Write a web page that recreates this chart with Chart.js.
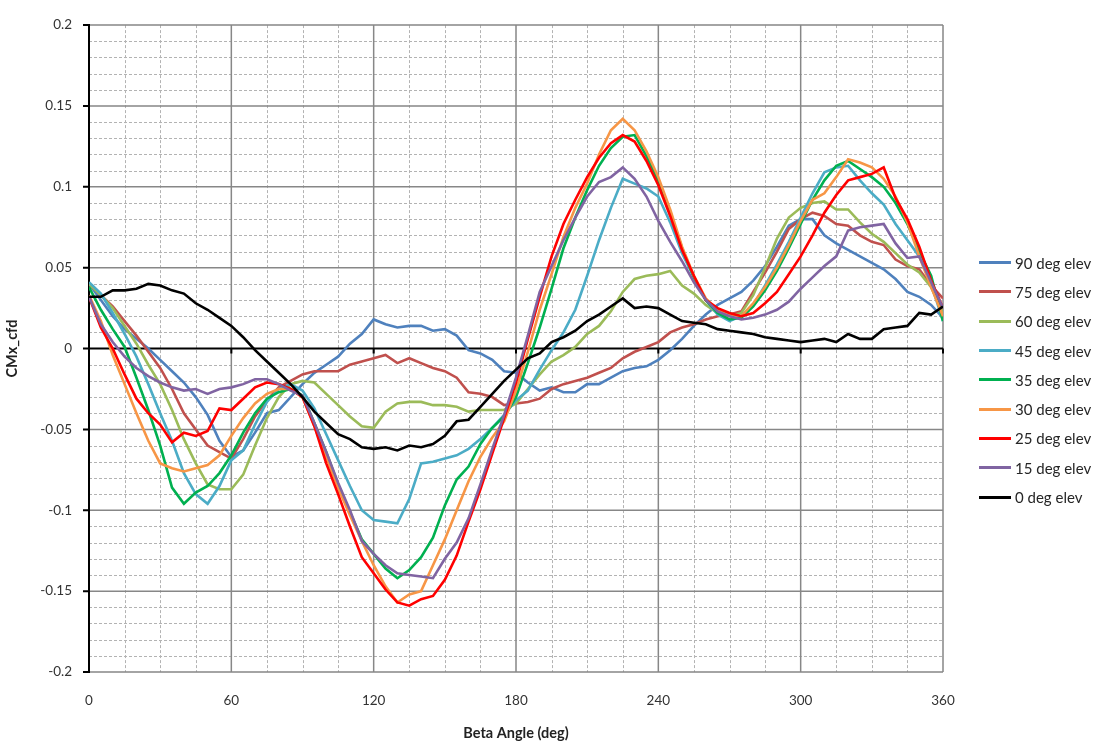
<!DOCTYPE html>
<html>
<head>
<meta charset="utf-8">
<title>CMx_cfd vs Beta Angle</title>
<script src="https://cdn.jsdelivr.net/npm/chart.js@4.4.0/dist/chart.umd.min.js"></script>
<style>
  html, body { margin: 0; padding: 0; background: #ffffff; }
  #wrap { position: relative; width: 1099px; height: 747px; overflow: hidden; }
  #plot { position: absolute; left: 0; top: 0; }
  #legend {
    position: absolute; left: 979px; top: 248px;
    font-family: Lato, "Open Sans", "DejaVu Sans", sans-serif;
    font-size: 15px; color: #262626;
  }
  .legend-item { display: flex; align-items: center; height: 29.3px; white-space: nowrap; }
  .legend-swatch { width: 32px; height: 3px; margin-right: 4px; flex: none; }
</style>
</head>
<body>
<div id="wrap">
  <canvas id="plot" width="1099" height="747"></canvas>
  <div id="legend"></div>
</div>
<script>
// Beta angle stations (deg)
const betaDeg = [
  0, 5, 10, 15, 20, 25, 30, 35, 40, 45, 50, 55,
  60, 65, 70, 75, 80, 85, 90, 95, 100, 105, 110, 115,
  120, 125, 130, 135, 140, 145, 150, 155, 160, 165, 170, 175,
  180, 185, 190, 195, 200, 205, 210, 215, 220, 225, 230, 235,
  240, 245, 250, 255, 260, 265, 270, 275, 280, 285, 290, 295,
  300, 305, 310, 315, 320, 325, 330, 335, 340, 345, 350, 355,
  360
];

// CMx_cfd for each elevation angle
const elev90 = [
  0.040, 0.030, 0.020, 0.012, 0.006, 0.000, -0.007, -0.014, -0.021, -0.030, -0.041, -0.057,
  -0.067, -0.063, -0.052, -0.040, -0.038, -0.030, -0.022, -0.015, -0.010, -0.005, 0.003, 0.009,
  0.018, 0.015, 0.013, 0.014, 0.014, 0.011, 0.012, 0.008, -0.001, -0.003, -0.007, -0.014,
  -0.015, -0.021, -0.026, -0.024, -0.027, -0.027, -0.022, -0.022, -0.018, -0.014, -0.012, -0.011,
  -0.007, -0.001, 0.006, 0.014, 0.021, 0.027, 0.031, 0.035, 0.042, 0.051, 0.063, 0.076,
  0.080, 0.080, 0.070, 0.065, 0.061, 0.057, 0.053, 0.049, 0.043, 0.035, 0.032, 0.027,
  0.019
];
const elev75 = [
  0.040, 0.033, 0.026, 0.017, 0.008, -0.002, -0.012, -0.025, -0.040, -0.050, -0.060, -0.064,
  -0.068, -0.056, -0.042, -0.032, -0.024, -0.020, -0.016, -0.014, -0.014, -0.014, -0.010, -0.008,
  -0.006, -0.004, -0.009, -0.006, -0.009, -0.012, -0.014, -0.018, -0.027, -0.028, -0.030, -0.035,
  -0.034, -0.033, -0.031, -0.025, -0.022, -0.020, -0.018, -0.015, -0.012, -0.006, -0.002, 0.001,
  0.004, 0.010, 0.013, 0.015, 0.018, 0.020, 0.021, 0.023, 0.035, 0.047, 0.060, 0.074,
  0.080, 0.084, 0.082, 0.077, 0.076, 0.070, 0.066, 0.064, 0.055, 0.051, 0.049, 0.039,
  0.031
];
const elev60 = [
  0.040, 0.033, 0.025, 0.014, 0.003, -0.010, -0.022, -0.038, -0.056, -0.071, -0.084, -0.087,
  -0.087, -0.078, -0.060, -0.043, -0.030, -0.022, -0.020, -0.021, -0.028, -0.035, -0.042, -0.048,
  -0.049, -0.039, -0.034, -0.033, -0.033, -0.035, -0.035, -0.036, -0.039, -0.038, -0.038, -0.038,
  -0.034, -0.025, -0.016, -0.008, -0.004, 0.001, 0.009, 0.014, 0.023, 0.035, 0.043, 0.045,
  0.046, 0.048, 0.039, 0.034, 0.027, 0.022, 0.020, 0.022, 0.033, 0.050, 0.068, 0.081,
  0.087, 0.090, 0.091, 0.086, 0.086, 0.078, 0.071, 0.066, 0.059, 0.052, 0.047, 0.038,
  0.022
];
const elev45 = [
  0.041, 0.034, 0.022, 0.009, -0.005, -0.022, -0.040, -0.057, -0.077, -0.090, -0.096, -0.085,
  -0.069, -0.063, -0.047, -0.033, -0.025, -0.022, -0.026, -0.037, -0.053, -0.069, -0.085, -0.100,
  -0.106, -0.107, -0.108, -0.093, -0.071, -0.070, -0.068, -0.066, -0.062, -0.056, -0.049, -0.041,
  -0.032, -0.026, -0.013, -0.001, 0.010, 0.024, 0.045, 0.067, 0.087, 0.105, 0.102, 0.099,
  0.094, 0.078, 0.059, 0.044, 0.030, 0.021, 0.017, 0.020, 0.027, 0.039, 0.052, 0.066,
  0.081, 0.096, 0.109, 0.112, 0.113, 0.104, 0.096, 0.089, 0.077, 0.067, 0.057, 0.040,
  0.017
];
const elev35 = [
  0.038, 0.024, 0.012, 0.001, -0.018, -0.038, -0.060, -0.086, -0.096, -0.089, -0.085, -0.077,
  -0.066, -0.052, -0.040, -0.031, -0.027, -0.025, -0.029, -0.046, -0.064, -0.084, -0.101, -0.118,
  -0.127, -0.136, -0.142, -0.137, -0.129, -0.117, -0.097, -0.081, -0.073, -0.059, -0.049, -0.042,
  -0.030, -0.009, 0.013, 0.037, 0.062, 0.081, 0.098, 0.113, 0.124, 0.131, 0.132, 0.119,
  0.104, 0.084, 0.062, 0.044, 0.030, 0.022, 0.018, 0.019, 0.026, 0.036, 0.048, 0.062,
  0.077, 0.092, 0.104, 0.113, 0.116, 0.111, 0.106, 0.100, 0.090, 0.077, 0.060, 0.045,
  0.017
];
const elev30 = [
  0.033, 0.017, -0.004, -0.022, -0.040, -0.057, -0.071, -0.074, -0.076, -0.074, -0.072, -0.066,
  -0.054, -0.043, -0.034, -0.028, -0.025, -0.025, -0.030, -0.048, -0.067, -0.086, -0.103, -0.119,
  -0.134, -0.147, -0.157, -0.152, -0.150, -0.134, -0.118, -0.100, -0.082, -0.067, -0.055, -0.045,
  -0.026, -0.002, 0.024, 0.046, 0.069, 0.087, 0.102, 0.120, 0.135, 0.142, 0.135, 0.122,
  0.106, 0.086, 0.063, 0.045, 0.031, 0.024, 0.021, 0.020, 0.028, 0.038, 0.050, 0.064,
  0.079, 0.092, 0.096, 0.106, 0.117, 0.115, 0.112, 0.105, 0.094, 0.078, 0.057, 0.038,
  0.020
];
const elev25 = [
  0.032, 0.013, 0.000, -0.016, -0.031, -0.040, -0.047, -0.058, -0.052, -0.054, -0.051, -0.037,
  -0.038, -0.031, -0.024, -0.021, -0.022, -0.025, -0.030, -0.048, -0.071, -0.090, -0.110, -0.129,
  -0.139, -0.149, -0.157, -0.159, -0.155, -0.153, -0.143, -0.128, -0.107, -0.087, -0.065, -0.043,
  -0.021, 0.006, 0.032, 0.057, 0.077, 0.092, 0.106, 0.118, 0.127, 0.132, 0.128, 0.116,
  0.101, 0.082, 0.061, 0.045, 0.030, 0.025, 0.022, 0.020, 0.022, 0.028, 0.035, 0.046,
  0.057, 0.070, 0.084, 0.095, 0.104, 0.106, 0.108, 0.112, 0.093, 0.080, 0.063, 0.042,
  0.025
];
const elev15 = [
  0.032, 0.015, 0.004, -0.005, -0.012, -0.017, -0.021, -0.024, -0.026, -0.025, -0.028, -0.025,
  -0.024, -0.022, -0.019, -0.019, -0.022, -0.026, -0.029, -0.046, -0.064, -0.083, -0.100, -0.119,
  -0.127, -0.134, -0.139, -0.140, -0.141, -0.142, -0.130, -0.120, -0.105, -0.084, -0.062, -0.041,
  -0.018, 0.008, 0.035, 0.051, 0.067, 0.081, 0.094, 0.103, 0.106, 0.112, 0.105, 0.094,
  0.079, 0.066, 0.054, 0.041, 0.030, 0.023, 0.020, 0.018, 0.019, 0.021, 0.024, 0.029,
  0.037, 0.044, 0.051, 0.057, 0.073, 0.075, 0.076, 0.077, 0.065, 0.056, 0.057, 0.041,
  0.025
];
const elev0 = [
  0.032, 0.032, 0.036, 0.036, 0.037, 0.040, 0.039, 0.036, 0.034, 0.028, 0.024, 0.019,
  0.014, 0.007, -0.001, -0.008, -0.015, -0.022, -0.030, -0.039, -0.046, -0.053, -0.056, -0.061,
  -0.062, -0.061, -0.063, -0.060, -0.061, -0.059, -0.054, -0.045, -0.044, -0.036, -0.028, -0.020,
  -0.013, -0.006, -0.003, 0.004, 0.007, 0.011, 0.017, 0.021, 0.026, 0.031, 0.025, 0.026,
  0.025, 0.021, 0.017, 0.016, 0.015, 0.012, 0.011, 0.010, 0.009, 0.007, 0.006, 0.005,
  0.004, 0.005, 0.006, 0.004, 0.009, 0.006, 0.006, 0.012, 0.013, 0.014, 0.022, 0.021,
  0.026
];

const seriesNames = [
  '90 deg elev', '75 deg elev', '60 deg elev', '45 deg elev', '35 deg elev',
  '30 deg elev', '25 deg elev', '15 deg elev', '0 deg elev'
];
const seriesValues = [elev90, elev75, elev60, elev45, elev35, elev30, elev25, elev15, elev0];
const seriesColors = [
  '#4F81BD', '#C0504D', '#9BBB59', '#4BACC6', '#00B050',
  '#F79646', '#FF0000', '#8064A2', '#000000'
];

// Axis ranges and tick spacing
const xRange = [0, 360];
const xMajorStep = 60;
const xMinorStep = 15;
const yRange = [-0.2, 0.2];
const yMajorStep = 0.05;
const yMinorStep = 0.01;

const FONT = 'Lato, "Open Sans", "DejaVu Sans", sans-serif';
Chart.defaults.font.family = FONT;

// Worksheet-style grid: dashed minor lines, solid major lines, black axis lines
const sheetGrid = {
  id: 'sheetGrid',
  beforeDatasetsDraw(chart) {
    const { ctx, chartArea: a, scales: { x, y } } = chart;
    const snap = (p) => Math.round(p) + 0.5;
    ctx.save();

    // minor lines
    ctx.lineWidth = 1;
    ctx.strokeStyle = '#b3b3b3';
    ctx.setLineDash([3, 2]);
    ctx.beginPath();
    for (let d = xRange[0]; d <= xRange[1] + 1e-9; d += xMinorStep) {
      if (Math.abs(d % xMajorStep) < 1e-9) continue;
      const px = snap(x.getPixelForValue(d));
      ctx.moveTo(px, a.top); ctx.lineTo(px, a.bottom);
    }
    const nMinor = Math.round((yRange[1] - yRange[0]) / yMinorStep);
    const perMajor = Math.round(yMajorStep / yMinorStep);
    for (let i = 0; i <= nMinor; i++) {
      if (i % perMajor === 0) continue;
      const py = snap(y.getPixelForValue(yRange[0] + i * yMinorStep));
      ctx.moveTo(a.left, py); ctx.lineTo(a.right, py);
    }
    ctx.stroke();

    // major lines
    ctx.setLineDash([]);
    ctx.lineWidth = 1.5;
    ctx.strokeStyle = '#878787';
    ctx.beginPath();
    for (let d = xRange[0] + xMajorStep; d <= xRange[1] + 1e-9; d += xMajorStep) {
      const px = x.getPixelForValue(d);
      ctx.moveTo(px, a.top); ctx.lineTo(px, a.bottom);
    }
    const nMajor = Math.round((yRange[1] - yRange[0]) / yMajorStep);
    for (let i = 0; i <= nMajor; i++) {
      const v = yRange[0] + i * yMajorStep;
      if (Math.abs(v) < 1e-9) continue;
      const py = y.getPixelForValue(v);
      ctx.moveTo(a.left, py); ctx.lineTo(a.right, py);
    }
    ctx.stroke();

    // axis lines and tick marks
    ctx.strokeStyle = '#000000';
    ctx.lineWidth = 2;
    const y0 = y.getPixelForValue(0);
    ctx.beginPath();
    ctx.moveTo(a.left, y0); ctx.lineTo(a.right, y0);
    ctx.moveTo(a.left, a.top - 1); ctx.lineTo(a.left, a.bottom + 1);
    for (let i = 0; i <= nMajor; i++) {
      const py = y.getPixelForValue(yRange[0] + i * yMajorStep);
      ctx.moveTo(a.left - 6, py); ctx.lineTo(a.left, py);
    }
    for (let d = xRange[0] + xMajorStep; d <= xRange[1] + 1e-9; d += xMajorStep) {
      const px = x.getPixelForValue(d);
      ctx.moveTo(px, y0); ctx.lineTo(px, y0 + 5);
    }
    ctx.stroke();
    ctx.restore();
  }
};

const datasets = seriesNames.map((name, i) => ({
  label: name,
  data: betaDeg.map((b, k) => ({ x: b, y: seriesValues[i][k] })),
  borderColor: seriesColors[i],
  backgroundColor: seriesColors[i],
  borderWidth: 2.6,
  pointRadius: 0,
  tension: 0,
  fill: false,
  order: seriesNames.length - i
}));

new Chart(document.getElementById('plot'), {
  type: 'line',
  data: { datasets },
  plugins: [sheetGrid],
  options: {
    responsive: false,
    animation: false,
    devicePixelRatio: 1,
    layout: { padding: { left: 0, top: 16, right: 156, bottom: 0 } },
    plugins: { legend: { display: false }, tooltip: { enabled: false } },
    scales: {
      x: {
        type: 'linear',
        min: xRange[0], max: xRange[1],
        grid: { display: false, drawTicks: false },
        border: { display: false },
        ticks: {
          stepSize: xMajorStep, padding: 21, maxRotation: 0,
          color: '#333333', font: { size: 13.5 }
        },
        title: {
          display: true, text: 'Beta Angle (deg)', color: '#222222',
          font: { size: 14.5, weight: 'bold' }, padding: { top: 0, bottom: 5 }
        },
        afterFit(scale) { scale.height = 75; }
      },
      y: {
        type: 'linear',
        min: yRange[0], max: yRange[1],
        grid: { display: false, drawTicks: false },
        border: { display: false },
        ticks: {
          stepSize: yMajorStep, padding: 17,
          color: '#333333', font: { size: 13.5 },
          callback: (v) => String(Math.round(v * 100) / 100)
        },
        title: {
          display: true, text: 'CMx_cfd', color: '#222222',
          font: { size: 14.5, weight: 'bold' }, padding: { top: 4, bottom: 0 }
        },
        afterFit(scale) { scale.width = 89; }
      }
    }
  }
});

// Legend beside the plot
const legendBox = document.getElementById('legend');
seriesNames.forEach((name, i) => {
  const row = document.createElement('div');
  row.className = 'legend-item';
  const sw = document.createElement('span');
  sw.className = 'legend-swatch';
  sw.style.background = seriesColors[i];
  const txt = document.createElement('span');
  txt.textContent = name;
  row.appendChild(sw);
  row.appendChild(txt);
  legendBox.appendChild(row);
});
</script>
</body>
</html>
